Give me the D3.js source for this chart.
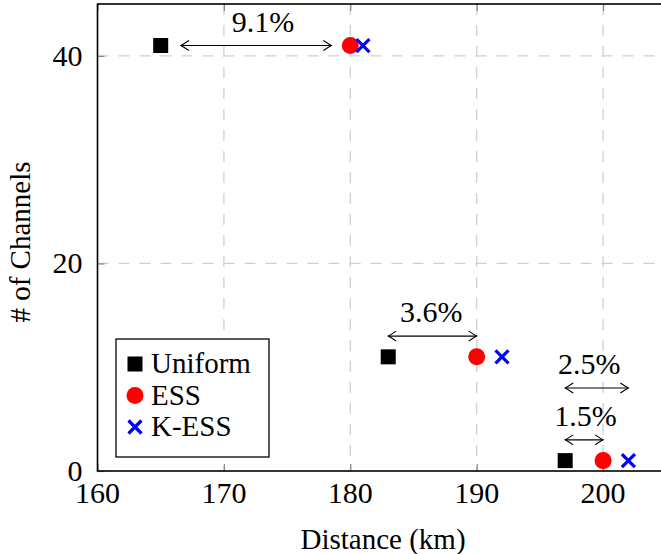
<!DOCTYPE html>
<html>
<head>
<meta charset="utf-8">
<script src="https://cdn.jsdelivr.net/npm/d3@7"></script>
</head>
<body style="margin:0">
<svg id="chart" width="661" height="554"></svg>
<script>
// data
var seriesNames = ["Uniform", "ESS", "K-ESS"];
var uniformX = [165, 183, 197];
var uniformY = [41, 11, 1];
var essX = [180, 190, 200];
var essY = [41, 11, 1];
var kessX = [181, 192, 202];
var kessY = [41, 11, 1];

// gap annotations (double arrows)
var gapLabels = ["9.1%", "3.6%", "2.5%", "1.5%"];
var gapFrom = [166.6, 183, 197, 197];
var gapTo = [178.5, 190, 202, 200];
var gapY = [41, 13, 8, 3];
var gapLabelX = [173.1, 186.4, 198.9, 198.6];

var xTicks = [160, 170, 180, 190, 200];
var yTicks = [0, 20, 40];

var margin = {top: 4, left: 97.5};
var width = 568.8, height = 467;

var svg = d3.select("#chart");
// all text inherits the serif face from here
var root = svg.append("g")
    .attr("font-family", "Liberation Serif")
    .attr("font-size", 30);

var graph = root.append("g")
    .attr("transform", "translate(" + margin.left + "," + margin.top + ")");

var x = d3.scaleLinear().domain([160, 205]).range([0, width]);
var y = d3.scaleLinear().domain([0, 45]).range([height, 0]);

// grid
graph.append("g").selectAll("line")
    .data(xTicks.slice(1))
    .enter().append("line")
    .attr("x1", d => x(d)).attr("x2", d => x(d))
    .attr("y1", 0).attr("y2", height)
    .attr("stroke", "#cfcfcf")
    .attr("stroke-width", 1.3)
    .attr("stroke-dasharray", "11,10");

graph.append("g").selectAll("line")
    .data(yTicks.slice(1))
    .enter().append("line")
    .attr("x1", 0).attr("x2", width)
    .attr("y1", d => y(d)).attr("y2", d => y(d))
    .attr("stroke", "#cfcfcf")
    .attr("stroke-width", 1.3)
    .attr("stroke-dasharray", "11,10");

// tick marks, inside, top & bottom / left
var xAxisB = d3.axisBottom(x).tickValues(xTicks).tickSize(-7).tickFormat("");
var xAxisT = d3.axisTop(x).tickValues(xTicks).tickSize(-7).tickFormat("");
var yAxisL = d3.axisLeft(y).tickValues(yTicks).tickSize(-7).tickFormat("");

[graph.append("g").attr("transform", "translate(0," + height + ")").call(xAxisB),
 graph.append("g").call(xAxisT),
 graph.append("g").call(yAxisL)].forEach(function (g) {
    g.select(".domain").remove();
    g.selectAll(".tick line").attr("stroke", "#888").attr("stroke-width", 1.2);
    g.selectAll(".tick text").remove();
});

// tick labels
graph.append("g").selectAll("text")
    .data(xTicks)
    .enter().append("text")
    .attr("x", d => x(d))
    .attr("y", height + 32)
    .attr("text-anchor", "middle")
    .text(d => d);

graph.append("g").selectAll("text")
    .data(yTicks)
    .enter().append("text")
    .attr("x", -15)
    .attr("y", d => y(d) + 10)
    .attr("text-anchor", "end")
    .text(d => d);

// frame
graph.append("rect")
    .attr("x", 0).attr("y", 0)
    .attr("width", width).attr("height", height)
    .attr("fill", "none")
    .attr("stroke", "#000")
    .attr("stroke-width", 1.6);

// axis titles
root.append("text")
    .attr("x", 383)
    .attr("y", 549)
    .attr("text-anchor", "middle")
    .attr("font-size", 29)
    .text("Distance (km)");

root.append("text")
    .attr("transform", "translate(30,242) rotate(-90)")
    .attr("text-anchor", "middle")
    .attr("font-size", 29)
    .text("# of Channels");

// double arrows
function arrowHead(px, py, dir) {
    // open arrowhead pointing in dir (+1 right, -1 left)
    var l = 8, h = 5;
    return "M" + (px - dir * l) + "," + (py - h) +
        " Q" + (px - dir * 2) + "," + (py - 1) + " " + px + "," + py +
        " Q" + (px - dir * 2) + "," + (py + 1) + " " + (px - dir * l) + "," + (py + h);
}

var gaps = gapLabels.map(function (t, i) { return i; });
var ann = graph.append("g");
ann.selectAll("line")
    .data(gaps)
    .enter().append("line")
    .attr("x1", i => x(gapFrom[i]))
    .attr("x2", i => x(gapTo[i]))
    .attr("y1", i => y(gapY[i]))
    .attr("y2", i => y(gapY[i]))
    .attr("stroke", "#000")
    .attr("stroke-width", 1.1);
ann.selectAll("path.l")
    .data(gaps)
    .enter().append("path")
    .attr("class", "l")
    .attr("d", i => arrowHead(x(gapFrom[i]), y(gapY[i]), -1))
    .attr("fill", "none").attr("stroke", "#000").attr("stroke-width", 1.1);
ann.selectAll("path.r")
    .data(gaps)
    .enter().append("path")
    .attr("class", "r")
    .attr("d", i => arrowHead(x(gapTo[i]), y(gapY[i]), 1))
    .attr("fill", "none").attr("stroke", "#000").attr("stroke-width", 1.1);
ann.selectAll("text")
    .data(gaps)
    .enter().append("text")
    .attr("x", i => x(gapLabelX[i]))
    .attr("y", i => y(gapY[i]) - 14)
    .attr("text-anchor", "middle")
    .text(i => gapLabels[i]);

// markers
var sq = 15, r = 8.5, cr = 6.5;
function drawSquare(g, cx, cy) {
    g.append("rect")
        .attr("x", cx - sq / 2).attr("y", cy - sq / 2)
        .attr("width", sq).attr("height", sq)
        .attr("fill", "#000");
}
function drawCircle(g, cx, cy) {
    g.append("circle")
        .attr("cx", cx).attr("cy", cy).attr("r", r)
        .attr("fill", "#ff0000");
}
function drawCross(g, cx, cy) {
    g.append("path")
        .attr("d", "M" + (cx - cr) + "," + (cy - cr) + "L" + (cx + cr) + "," + (cy + cr) +
            "M" + (cx - cr) + "," + (cy + cr) + "L" + (cx + cr) + "," + (cy - cr))
        .attr("stroke", "#0000ff")
        .attr("stroke-width", 3.2)
        .attr("fill", "none");
}

var pts = graph.append("g");
uniformX.forEach(function (d, i) { drawSquare(pts, x(d), y(uniformY[i])); });
essX.forEach(function (d, i) { drawCircle(pts, x(d), y(essY[i])); });
kessX.forEach(function (d, i) { drawCross(pts, x(d), y(kessY[i])); });

// legend
var legend = root.append("g").attr("transform", "translate(116,339)");
legend.append("rect")
    .attr("width", 153).attr("height", 118)
    .attr("fill", "#fff")
    .attr("stroke", "#000")
    .attr("stroke-width", 1.3);
var drawers = [drawSquare, drawCircle, drawCross];
seriesNames.forEach(function (name, i) {
    var ly = 25 + i * 31.5;
    drawers[i](legend, 19, ly);
    legend.append("text")
        .attr("x", 35)
        .attr("y", ly + 9)
        .attr("font-size", 29)
        .text(name);
});
</script>
</body>
</html>
